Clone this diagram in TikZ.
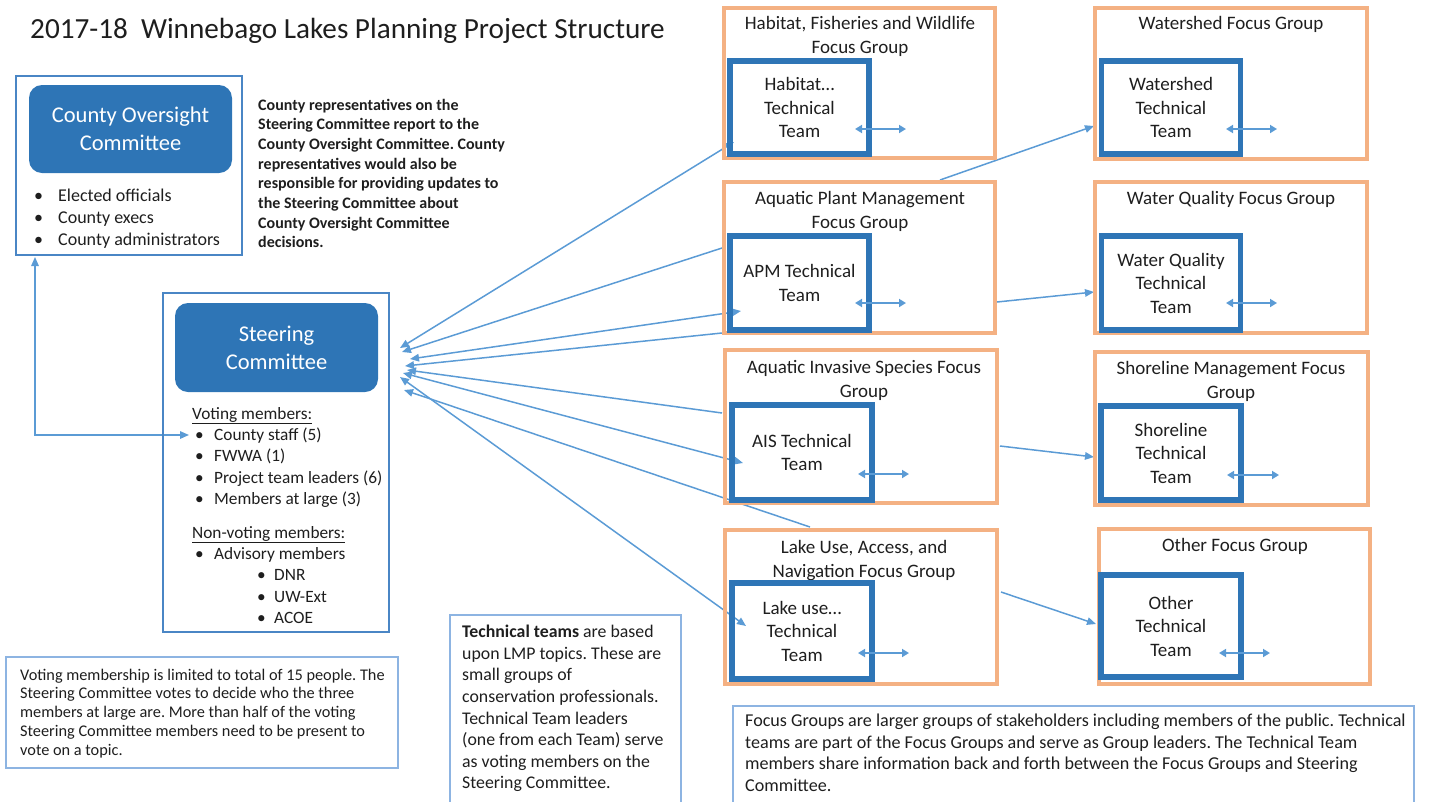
\documentclass[tikz,border=0pt]{standalone}
\usepackage{fontspec}
\setmainfont{Carlito}
\usetikzlibrary{arrows.meta,backgrounds}
\definecolor{conn}{HTML}{5B9BD5}
\definecolor{teamblue}{HTML}{2E75B6}
\definecolor{fgorange}{HTML}{F4B183}
\definecolor{thinblue}{HTML}{4A86C5}
\definecolor{lightblue}{HTML}{8DB4E2}
\definecolor{txt}{HTML}{1E1E1E}
\frenchspacing
\begin{document}
\begin{tikzpicture}[x=1pt,y=-1pt,
  every node/.style={text=txt},
  myhead/.tip={Triangle[length=9pt,width=7.5pt]},
  smallhead/.tip={Triangle[length=7pt,width=8pt]},
  tbox/.style={draw=teamblue, line width=5.5pt, inner sep=0pt, align=center, font=\fontsize{19}{23.5}\selectfont},
  fgbox/.style={draw=fgorange, line width=4pt, inner sep=0pt},
  fgtitle/.style={anchor=north, inner sep=0pt, align=center, font=\fontsize{19}{23.5}\selectfont},
  rbox/.style={fill=teamblue, rounded corners=13pt, minimum width=203pt, minimum height=88pt, text=white, align=center, font=\fontsize{22.5}{28}\selectfont, inner sep=0pt},
  thinbox/.style={draw=thinblue, line width=1.3pt, inner sep=0pt},
  notebox/.style={draw=lightblue, line width=1.5pt, inner sep=0pt},
  body/.style={anchor=north west, inner sep=0pt, align=left},
  conn/.style={draw=conn, line width=1.5pt},
  twoway/.style={conn, myhead-myhead},
  oneway/.style={conn, -myhead},
  smallarrow/.style={draw=conn, line width=2pt, smallhead-smallhead}
]
\useasboundingbox (0,0) rectangle (1430,801);

% title
\node[anchor=base west, inner sep=0pt, font=\fontsize{29.2}{35}\selectfont] (title) at (30,38)
  {2017-18\hspace{0.45em}Winnebago Lakes Planning Project Structure};

% County oversight
\node[thinbox, minimum width=226pt, minimum height=179pt] (cobox) at (129,165.5) {};
\node[rbox] (coc) at (130.5,129) {County Oversight\\Committee};
\node[body, font=\fontsize{18}{22}\selectfont] (colist) at (34,188.8)
  {\makebox[24pt][l]{•}Elected officials\\
   \makebox[24pt][l]{•}County execs\\
   \makebox[24pt][l]{•}County administrators};
\node[body, font=\bfseries\fontsize{16}{19.7}\selectfont] (corep) at (258,98.6)
  {County representatives on the\\
   Steering Committee report to the\\
   County Oversight Committee. County\\
   representatives would also be\\
   responsible for providing updates to\\
   the Steering Committee about\\
   County Oversight Committee\\
   decisions.};

% Steering committee
\node[thinbox, minimum width=226pt, minimum height=339pt] (scbox) at (276,462.5) {};
\node[rbox, minimum height=89pt] (sc) at (276.5,347.5) {Steering\\Committee};
\node[body, font=\fontsize{17.3}{21.3}\selectfont] (sclist) at (192,407.1)
  {\underline{Voting members:}\\
   \hspace*{3pt}\makebox[19pt][l]{•}County staff (5)\\
   \hspace*{3pt}\makebox[19pt][l]{•}FWWA (1)\\
   \hspace*{3pt}\makebox[19pt][l]{•}Project team leaders (6)\\
   \hspace*{3pt}\makebox[19pt][l]{•}Members at large (3)\\[12.5pt]
   \underline{Non-voting members:}\\
   \hspace*{3pt}\makebox[19pt][l]{•}Advisory members\\
   \hspace*{65pt}\makebox[17pt][l]{•}DNR\\
   \hspace*{65pt}\makebox[17pt][l]{•}UW-Ext\\
   \hspace*{65pt}\makebox[17pt][l]{•}ACOE};

% note boxes
\node[notebox, minimum width=392pt, minimum height=111pt] (votebox) at (202,712.5) {};
\node[body, font=\fontsize{16.3}{18.8}\selectfont] (votetext) at (20,668.5)
  {Voting membership is limited to total of 15 people. The\\
   Steering Committee votes to decide who the three\\
   members at large are. More than half of the voting\\
   Steering Committee members need to be present to\\
   vote on a topic.};
\node[notebox, minimum width=231pt, minimum height=190pt] (techbox) at (565.5,710) {};
\node[body, font=\fontsize{17.8}{21.6}\selectfont] (techtext) at (462,624.9)
  {\textbf{Technical teams} are based\\
   upon LMP topics. These are\\
   small groups of\\
   conservation professionals.\\
   Technical Team leaders\\
   (one from each Team) serve\\
   as voting members on the\\
   Steering Committee.};
\node[notebox, minimum width=681pt, minimum height=99pt] (focbox) at (1073.5,755.5) {};
\node[body, font=\fontsize{18.1}{21.7}\selectfont] (foctext) at (745,713.7)
  {Focus Groups are larger groups of stakeholders including members of the public. Technical\\
   teams are part of the Focus Groups and serve as Group leaders. The Technical Team\\
   members share information back and forth between the Focus Groups and Steering\\
   Committee.};

% focus groups
\node[fgbox, minimum width=271pt, minimum height=150pt] (fgHab) at (859.5,83) {};
\node[fgbox, minimum width=271pt, minimum height=151pt] (fgApm) at (859.5,257.5) {};
\node[fgbox, minimum width=272pt, minimum height=153pt] (fgAis) at (861,426.5) {};
\node[fgbox, minimum width=272pt, minimum height=154pt] (fgLake) at (861,607) {};
\node[fgbox, minimum width=272pt, minimum height=151pt] (fgWs) at (1231,83.5) {};
\node[fgbox, minimum width=272pt, minimum height=151pt] (fgWq) at (1231,257.5) {};
\node[fgbox, minimum width=273pt, minimum height=153pt] (fgSh) at (1231.5,428.5) {};
\node[fgbox, minimum width=271pt, minimum height=155pt] (fgOth) at (1234.5,606.5) {};

\node[fgtitle] (tHab) at (860,16.4) {Habitat, Fisheries and Wildlife\\Focus Group};
\node[fgtitle] (tApm) at (860,191.4) {Aquatic Plant Management\\Focus Group};
\node[fgtitle] (tAis) at (864,360.4) {Aquatic Invasive Species Focus\\Group};
\node[fgtitle] (tLake) at (864,540.4) {Lake Use, Access, and\\Navigation Focus Group};
\node[fgtitle] (tWs) at (1231,16.4) {Watershed Focus Group};
\node[fgtitle] (tWq) at (1231,191.4) {Water Quality Focus Group};
\node[fgtitle] (tSh) at (1231,361.4) {Shoreline Management Focus\\Group};
\node[fgtitle] (tOth) at (1235,538.4) {Other Focus Group};

% technical teams
\node[tbox, minimum width=139pt, minimum height=93pt] (tmHab) at (799.5,107.5) {Habitat…\\Technical\\Team};
\node[tbox, minimum width=139pt, minimum height=94pt] (tmApm) at (799.5,283) {APM Technical\\Team};
\node[tbox, minimum width=140pt, minimum height=95pt] (tmAis) at (802,452.5) {AIS Technical\\Team};
\node[tbox, minimum width=140pt, minimum height=96pt] (tmLake) at (802,631) {Lake use…\\Technical\\Team};
\node[tbox, minimum width=139pt, minimum height=93pt] (tmWs) at (1171,107.5) {Watershed\\Technical\\Team};
\node[tbox, minimum width=139pt, minimum height=94pt] (tmWq) at (1171,283) {Water Quality\\Technical\\Team};
\node[tbox, minimum width=140pt, minimum height=94pt] (tmSh) at (1171,453) {Shoreline\\Technical\\Team};
\node[tbox, minimum width=140pt, minimum height=102pt] (tmOth) at (1171,626) {Other\\Technical\\Team};

% connector end points
\coordinate (s1) at (400,348);
\coordinate (s2) at (402,352);
\coordinate (s3) at (410,359);
\coordinate (s4) at (405,366);
\coordinate (s5) at (407,370);
\coordinate (s6) at (403,373);
\coordinate (s7) at (404,390);
\coordinate (s8) at (400,377);
\coordinate (e1) at (734,142);
\coordinate (g2) at (722,248);
\coordinate (e3) at (741,311);
\coordinate (g4) at (722,333);
\coordinate (g5) at (722,413);
\coordinate (e6) at (743,463);
\coordinate (g7) at (810,527);
\coordinate (e8) at (746,626);
\coordinate (c1a) at (940,180);  \coordinate (c1b) at (1094,126);
\coordinate (c2a) at (997,302);  \coordinate (c2b) at (1094,292);
\coordinate (c3a) at (1000,446); \coordinate (c3b) at (1094,457);
\coordinate (c4a) at (1001,592); \coordinate (c4b) at (1096,624);
\coordinate (coBot) at (35,257);
\coordinate (scItem) at (189,435);

\begin{scope}[on background layer]
  \draw[twoway] (coBot) |- (scItem);
  \draw[twoway] (s1) -- (e1);
  \draw[oneway] (g2) -- (s2);
  \draw[twoway] (s3) -- (e3);
  \draw[oneway] (g4) -- (s4);
  \draw[oneway] (g5) -- (s5);
  \draw[twoway] (s6) -- (e6);
  \draw[oneway] (g7) -- (s7);
  \draw[twoway] (s8) -- (e8);
  \draw[oneway] (c1a) -- (c1b);
  \draw[oneway] (c2a) -- (c2b);
  \draw[oneway] (c3a) -- (c3b);
  \draw[oneway] (c4a) -- (c4b);
\end{scope}

% small two-way arrows in the teams
\draw[smallarrow] (855,129) -- (906,129);
\draw[smallarrow] (855,303) -- (906,303);
\draw[smallarrow] (858,474) -- (909,474);
\draw[smallarrow] (858,653) -- (909,653);
\draw[smallarrow] (1226,129) -- (1277,129);
\draw[smallarrow] (1226,303) -- (1277,303);
\draw[smallarrow] (1227,475) -- (1279,475);
\draw[smallarrow] (1219,653) -- (1270,653);
\end{tikzpicture}
\end{document}
